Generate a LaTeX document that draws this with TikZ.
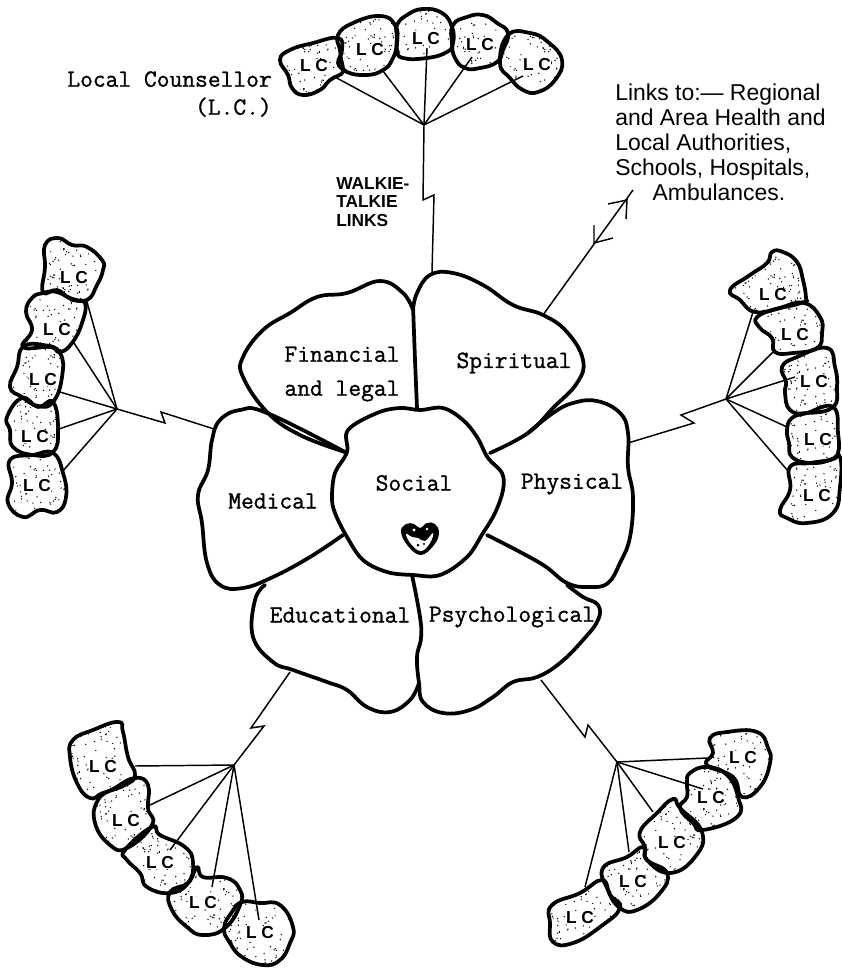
\documentclass[tikz,border=0pt]{standalone}
\usepackage{fontspec}
\usetikzlibrary{patterns}
\setsansfont{Liberation Sans}
\newfontfamily\typew[FakeBold=1.1]{Latin Modern Mono}
\pgfdeclarepatternformonly{stipple}{\pgfpointorigin}{\pgfpoint{60pt}{60pt}}{\pgfpoint{60pt}{60pt}}{%
  \pgfmathsetseed{4711}%
  \foreach \i in {1,...,130}{%
    \pgfmathsetmacro\dotx{60*rnd}%
    \pgfmathsetmacro\doty{60*rnd}%
    \pgfpathcircle{\pgfpoint{\dotx pt}{\doty pt}}{0.55pt}%
    \pgfusepath{fill}%
  }%
}
\newcommand\lcblob[4]{%
  \fill[pattern=stipple] plot[smooth cycle,tension=0.8] coordinates {#2};
  \draw[blobline] plot[smooth cycle,tension=0.8] coordinates {#2};
  \node[lclabel] (#1) at (#3,#4) {L C};
}
\tikzset{
  blobline/.style={line width=2.8pt,line join=round,black},
  petal/.style={line width=2.8pt,line join=round,line cap=round,black},
  wire/.style={line width=1.1pt,black,line join=miter},
  lclabel/.style={font=\sffamily\bfseries\fontsize{13}{14}\selectfont,fill=white,inner sep=0.2pt},
  petaltext/.style={font=\typew\fontsize{18.6}{19.5}\selectfont,align=center,inner sep=0pt},
}
\begin{document}
\begin{tikzpicture}[x=0.75pt,y=-0.75pt]
\useasboundingbox (0,0) rectangle (842,968);

% ---------- flower ----------
\draw[petal] plot[smooth,tension=0.7] coordinates {(413,310)(403,293)(380,281)(347,293)(317,297)(290,313)(263,330)(243,357)(243,377)(267,412)(300,435)(345,452)};
\draw[petal] plot[smooth,tension=0.7] coordinates {(413,310)(417,293)(430,275)(453,273)(483,285)(513,305)(543,315)(567,332)(583,360)(577,383)(553,408)(528,433)(490,453)};
\draw[petal] (413,305) -- (415,360) -- (417,408);
\draw[petal] plot[smooth,tension=0.7] coordinates {(528,433)(553,413)(573,403)(597,401)(620,413)(628,433)(628,467)(633,497)(630,537)(620,563)(608,583)(590,587)(567,583)(540,563)(487,535)};
\draw[petal] plot[smooth,tension=0.7] coordinates {(345,452)(267,413)(240,410)(220,420)(212,440)(208,470)(198,495)(202,523)(207,563)(220,585)(243,588)(273,577)(310,557)(343,535)};
\draw[petal] plot[smooth,tension=0.7] coordinates {(265,585)(255,600)(253,637)(273,662)(293,670)(327,682)(347,690)(367,707)(390,712)(410,700)(419,683)};
\draw[petal] plot[smooth,tension=0.7] coordinates {(412,575)(420,617)(421,638)(417,657)(419,683)(423,702)(443,713)(470,710)(493,697)(513,682)(537,677)(560,663)(583,640)(598,620)(598,605)(583,597)(567,585)};
\draw[petal] plot[smooth cycle,tension=0.6] coordinates {(420,410)(443,408)(463,420)(477,437)(488,458)(502,473)(503,490)(495,513)(483,533)(467,557)(440,575)(413,575)(387,572)(363,560)(347,537)(335,513)(332,497)(335,473)(347,452)(348,430)(377,413)(400,408)};

% heart
\fill[black] plot[smooth cycle,tension=0.7] coordinates {(401,532)(406,524)(414,524)(420,528)(427,523)(435,524)(439,533)(434,545)(421,555)(408,546)};
\fill[white] plot[smooth cycle,tension=0.7] coordinates {(406,534)(412,537)(418,538)(425,541)(433,533)(430,543)(421,551)(411,544)};
\fill[white] (414,530) circle[radius=1.6];
\fill[white] (427,529) circle[radius=1.3];
\fill[black] (418,545) circle[radius=1.5];
\fill[black] (424,544) circle[radius=1.2];

\node[petaltext] (fin) at (342,374) {Financial\\[6pt]and legal};
\node[petaltext] (spi) at (514,363) {Spiritual};
\node[petaltext] (soc) at (414,483) {Social};
\node[petaltext] (phy) at (572,484) {Physical};
\node[petaltext] (med) at (273,501) {Medical};
\node[petaltext] (edu) at (340,615) {Educational};
\node[petaltext] (psy) at (512,617) {Psychological};

% ---------- top group ----------
\lcblob{t1}{(280,60)(290,50)(313,43)(338,38)(342,50)(338,63)(343,72)(330,80)(320,90)(303,95)(292,88)(288,75)}{314}{66}
\lcblob{t2}{(338,35)(353,23)(380,16)(395,25)(397,43)(392,60)(383,70)(367,75)(347,72)(342,63)(340,50)}{370}{50}
\lcblob{t3}{(397,25)(407,15)(423,9)(442,13)(452,27)(453,43)(447,52)(427,58)(403,58)(397,50)(397,37)}{426}{39}
\lcblob{t4}{(453,25)(467,17)(483,15)(497,23)(508,33)(503,50)(497,62)(480,68)(465,68)(455,58)(452,43)}{480}{45}
\lcblob{t5}{(508,35)(530,33)(548,42)(562,60)(555,80)(538,92)(523,90)(510,78)(500,63)}{537}{65}
\coordinate (hT) at (424,125);
\coordinate (t1e) at (333,76);
\coordinate (t2e) at (383,71);
\coordinate (t3e) at (427,48);
\coordinate (t4e) at (472,57);
\coordinate (t5e) at (523,76);
\coordinate (tz1) at (423,200);
\coordinate (tz2) at (434,195);
\coordinate (tp) at (432,272);
\foreach \e in {t1e,t2e,t3e,t4e,t5e} \draw[wire] (hT) -- (\e);
\draw[wire] (hT) -- (tz1) -- (tz2) -- (tp);

% ---------- left group ----------
\lcblob{l1}{(45,245)(58,238)(72,245)(87,247)(102,260)(103,270)(97,285)(87,300)(70,298)(57,290)(43,292)(45,267)}{74}{278}
\lcblob{l2}{(43,293)(57,292)(73,300)(85,303)(82,323)(72,343)(60,352)(50,347)(23,347)(32,330)(26,312)(32,298)}{57}{330}
\lcblob{l3}{(23,347)(43,345)(60,353)(62,377)(53,402)(38,406)(22,397)(10,387)(17,367)}{43}{380}
\lcblob{l4}{(22,398)(38,407)(53,402)(58,430)(53,452)(33,455)(13,447)(10,430)(7,417)}{35}{437}
\lcblob{l5}{(10,460)(33,455)(53,453)(63,473)(66,497)(57,512)(40,510)(23,517)(8,503)(12,483)}{37}{486}
\coordinate (hL) at (117,409);
\coordinate (l1e) at (87,302);
\coordinate (l2e) at (74,343);
\coordinate (l3e) at (60,392);
\coordinate (l4e) at (59,429);
\coordinate (l5e) at (62,472);
\coordinate (lz1) at (165,423);
\coordinate (lz2) at (161,412);
\coordinate (lp) at (214,429);
\foreach \e in {l1e,l2e,l3e,l4e,l5e} \draw[wire] (hL) -- (\e);
\draw[wire] (hL) -- (lz1) -- (lz2) -- (lp);

% ---------- right group ----------
\lcblob{r1}{(730,290)(750,275)(767,263)(772,252)(783,252)(797,262)(803,280)(806,298)(804,302)(780,308)(755,312)(740,300)}{773}{295}
\lcblob{r2}{(757,317)(780,308)(804,303)(820,317)(822,333)(817,348)(793,353)(775,352)(772,338)(760,328)}{795}{335}
\lcblob{r3}{(782,367)(797,357)(827,348)(835,367)(837,387)(833,407)(807,413)(790,410)(785,393)(786,382)}{814}{382}
\lcblob{r4}{(792,418)(807,413)(833,407)(838,433)(838,453)(830,460)(810,463)(792,457)(789,443)(787,430)}{818}{440}
\lcblob{r5}{(790,467)(810,463)(830,460)(840,457)(840,487)(833,513)(807,523)(787,518)(780,510)(790,490)}{817}{496}
\coordinate (hR) at (726,399);
\coordinate (r1e) at (753,312);
\coordinate (r2e) at (773,352);
\coordinate (r3e) at (795,377);
\coordinate (r4e) at (787,427);
\coordinate (r5e) at (788,471);
\coordinate (rz1) at (681,415);
\coordinate (rz2) at (694,423);
\coordinate (rp) at (628,443);
\foreach \e in {r1e,r2e,r3e,r4e,r5e} \draw[wire] (hR) -- (\e);
\draw[wire] (hR) -- (rz1) -- (rz2) -- (rp);

% ---------- bottom-left group ----------
\lcblob{a1}{(73,740)(93,730)(118,722)(123,732)(128,757)(135,775)(125,785)(103,793)(90,798)(77,783)(70,757)}{103}{767}
\lcblob{a2}{(98,800)(115,788)(135,778)(148,785)(148,808)(152,825)(127,848)(110,845)(95,823)}{126}{821}
\lcblob{a3}{(125,850)(152,827)(160,835)(185,847)(193,863)(188,883)(170,893)(147,887)(140,873)(127,860)}{160}{863}
\lcblob{a4}{(170,892)(188,883)(197,867)(203,877)(227,878)(240,890)(240,905)(225,928)(203,935)(187,927)(172,910)}{203}{903}
\lcblob{a5}{(242,902)(260,903)(280,905)(293,927)(290,943)(280,960)(263,965)(242,957)(230,943)(224,928)(232,912)}{260}{933}
\coordinate (hA) at (234,765);
\coordinate (a1e) at (135,766);
\coordinate (a2e) at (150,805);
\coordinate (a3e) at (170,850);
\coordinate (a4e) at (212,887);
\coordinate (a5e) at (259,920);
\coordinate (az1) at (264,726);
\coordinate (az2) at (251,728);
\coordinate (ap) at (290,672);
\foreach \e in {a1e,a2e,a3e,a4e,a5e} \draw[wire] (hA) -- (\e);
\draw[wire] (hA) -- (az1) -- (az2) -- (ap);

% ---------- bottom-right group ----------
\lcblob{c1}{(710,738)(727,732)(757,732)(768,748)(770,763)(760,787)(742,797)(733,777)(707,765)(713,753)}{743}{758}
\lcblob{c2}{(687,783)(690,773)(707,767)(727,775)(738,797)(737,817)(703,830)(693,823)(680,808)(687,797)}{711}{798}
\lcblob{c3}{(640,832)(657,813)(673,799)(680,808)(702,832)(695,857)(670,873)(647,860)(645,847)}{672}{843}
\lcblob{c4}{(603,868)(627,857)(643,847)(647,860)(667,873)(660,893)(637,910)(620,908)(608,890)}{633}{882}
\lcblob{c5}{(552,905)(580,893)(602,880)(610,895)(620,908)(600,927)(573,943)(553,942)(550,923)}{580}{918}
\coordinate (hC) at (617,762);
\coordinate (c1e) at (707,758);
\coordinate (c2e) at (703,789);
\coordinate (c3e) at (653,812);
\coordinate (c4e) at (629,852);
\coordinate (c5e) at (585,887);
\coordinate (cz1) at (588,725);
\coordinate (cz2) at (585,737);
\coordinate (cp) at (541,680);
\foreach \e in {c1e,c2e,c3e,c4e,c5e} \draw[wire] (hC) -- (\e);
\draw[wire] (hC) -- (cz1) -- (cz2) -- (cp);

% ---------- labels ----------
\node[anchor=north east,align=right,inner sep=0pt,font=\typew\fontsize{18.6}{21}\selectfont] (lcn) at (272,71) {Local Counsellor\\(L.C.)};
\node[anchor=north west,align=left,inner sep=0pt,font=\sffamily\bfseries\fontsize{13}{14}\selectfont] (wtl) at (336,177) {WALKIE-\\TALKIE\\LINKS};
\node[anchor=north west,align=left,inner sep=0pt,font=\sffamily\fontsize{17.2}{18.75}\selectfont] (lnk) at (615,84) {Links to:— Regional\\and Area Health and\\Local Authorities,\\Schools, Hospitals,\\\hspace*{28pt}Ambulances.};

% two-way arrow
\coordinate (sp) at (543,315);
\coordinate (ae) at (633,190);
\coordinate (ah1) at (627,200);
\coordinate (ah1a) at (608,204);
\coordinate (ah1b) at (626,219);
\coordinate (ah2) at (594,243);
\coordinate (ah2a) at (594,225);
\coordinate (ah2b) at (613,238);
\draw[wire] (sp) -- (ae);
\draw[wire] (ah1a) -- (ah1) -- (ah1b);
\draw[wire] (ah2a) -- (ah2) -- (ah2b);
\end{tikzpicture}
\end{document}
